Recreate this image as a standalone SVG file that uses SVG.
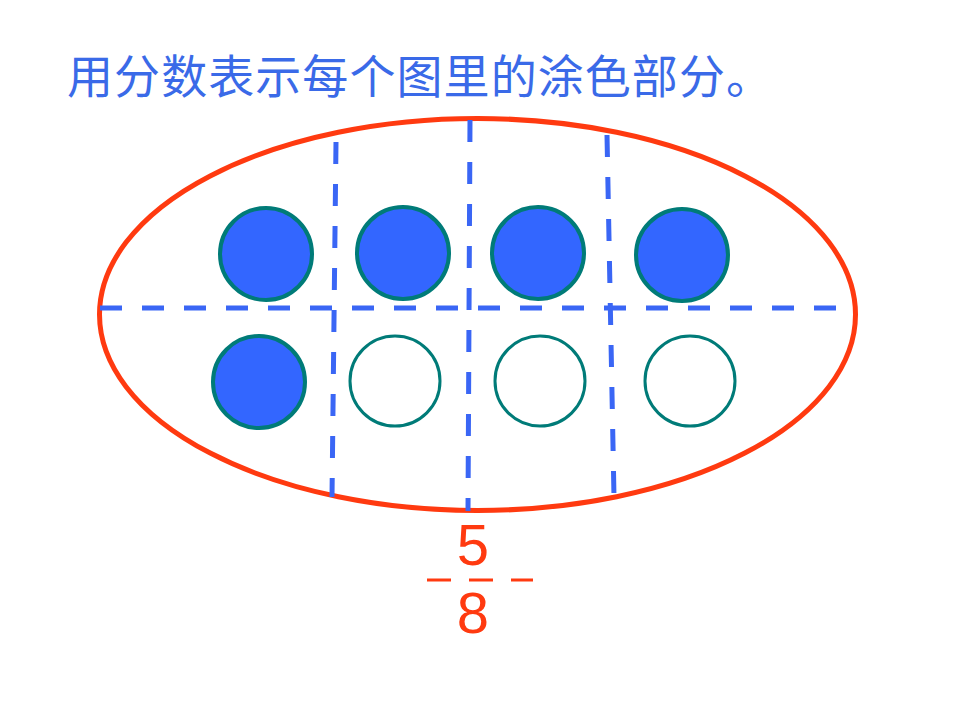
<svg xmlns="http://www.w3.org/2000/svg" width="960" height="720" viewBox="0 0 960 720">
<style>
.title{font-family:"Liberation Sans","Noto Sans CJK SC",sans-serif;font-size:46px;fill:#3a6ae8}
.num{font-family:"Liberation Sans",Arial,sans-serif;font-size:58px;fill:#ff3a10;text-anchor:middle}
.dash{stroke:#3a66f5;stroke-width:5;stroke-dasharray:22 20;fill:none}
.full{fill:#3366ff;stroke:#007b78;stroke-width:4}
.empty{fill:#fff;stroke:#007b78;stroke-width:3}
</style>
<rect width="960" height="720" fill="#fff"/>
<text class="title" x="67" y="93" textLength="705">用分数表示每个图里的涂色部分。</text>
<g id="oval"><ellipse cx="477.5" cy="314.5" rx="378" ry="196" fill="none" stroke="#ff3a10" stroke-width="5"/></g>
<g id="connectors">
<line class="dash" x1="100" y1="308" x2="840" y2="308"/>
<line class="dash" x1="336" y1="142" x2="332" y2="497"/>
<line class="dash" x1="470" y1="120" x2="468" y2="511"/>
<line class="dash" x1="607" y1="135" x2="614" y2="497"/>
</g>
<g id="c1"><circle class="full" cx="266" cy="254" r="46"/></g>
<g id="c2"><circle class="full" cx="403" cy="253" r="46"/></g>
<g id="c3"><circle class="full" cx="538" cy="253" r="46"/></g>
<g id="c4"><circle class="full" cx="682" cy="255" r="46"/></g>
<g id="c5"><circle class="full" cx="259" cy="382" r="46"/></g>
<g id="c6"><circle class="empty" cx="395" cy="381" r="45"/></g>
<g id="c7"><circle class="empty" cx="540" cy="381" r="45"/></g>
<g id="c8"><circle class="empty" cx="690" cy="381" r="45"/></g>
<g id="fraction">
<text class="num" x="473" y="565">5</text>
<line x1="427" y1="580" x2="533" y2="580" stroke="#ff3a10" stroke-width="3" stroke-dasharray="24 18"/>
<text class="num" x="473" y="633">8</text>
</g>
</svg>
